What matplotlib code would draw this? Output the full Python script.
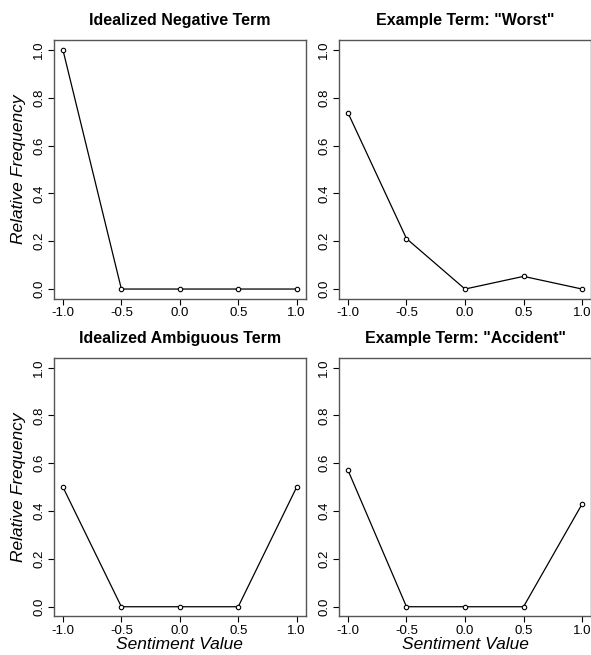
import matplotlib
matplotlib.use("Agg")
import matplotlib.pyplot as plt

plt.rcParams['font.family'] = ['Liberation Sans', 'DejaVu Sans']

sentiment = [-1.0, -0.5, 0.0, 0.5, 1.0]
idealized_negative = [1.0, 0.0, 0.0, 0.0, 0.0]
worst = [0.737, 0.211, 0.0, 0.053, 0.0]
idealized_ambiguous = [0.5, 0.0, 0.0, 0.0, 0.5]
accident = [0.571, 0.0, 0.0, 0.0, 0.429]

titles = ["Idealized Negative Term", 'Example Term: "Worst"',
          "Idealized Ambiguous Term", 'Example Term: "Accident"']
series = [idealized_negative, worst, idealized_ambiguous, accident]

xticks = [-1.0, -0.5, 0.0, 0.5, 1.0]
yticks = [0.0, 0.2, 0.4, 0.6, 0.8, 1.0]

fig = plt.figure(figsize=(5.91, 6.55), dpi=100)
W, H = 591, 655
# panel boxes in pixels: (left, top, right, bottom)
boxes = [(53.6, 40.4, 306, 298.6), (338.6, 40.4, 591.4, 298.6),
         (53.6, 358, 306, 616.3), (338.6, 358, 591.4, 616.3)]

for i, (box, vals, title) in enumerate(zip(boxes, series, titles)):
    l, t, r, b = box
    ax = fig.add_axes([l / W, 1 - b / H, (r - l) / W, (b - t) / H])
    ax.plot(sentiment, vals, color='black', lw=0.9, marker='o', ms=3.2,
            mfc='white', mec='black', mew=0.8)
    ax.set_xlim(-1.08, 1.08)
    ax.set_ylim(-0.04, 1.04)
    ax.set_xticks(xticks)
    ax.set_xticklabels(["%.1f" % v for v in xticks])
    ax.set_yticks(yticks)
    ax.set_yticklabels(["%.1f" % v for v in yticks], rotation=90, va='center')
    ax.tick_params(direction='out', length=4, width=0.8, labelsize=9.5,
                   color='black', pad=2)
    for s in ax.spines.values():
        s.set_color('#555555')
        s.set_linewidth(1.0)
    ax.set_title(title, fontsize=11.5, fontweight='bold', pad=11)
    if i % 2 == 0:
        ax.set_ylabel("Relative Frequency", fontsize=12.5, style='italic', labelpad=5)
    if i >= 2:
        ax.set_xlabel("Sentiment Value", fontsize=12.5, style='italic', labelpad=0)

fig.savefig("out.png", dpi=100)
